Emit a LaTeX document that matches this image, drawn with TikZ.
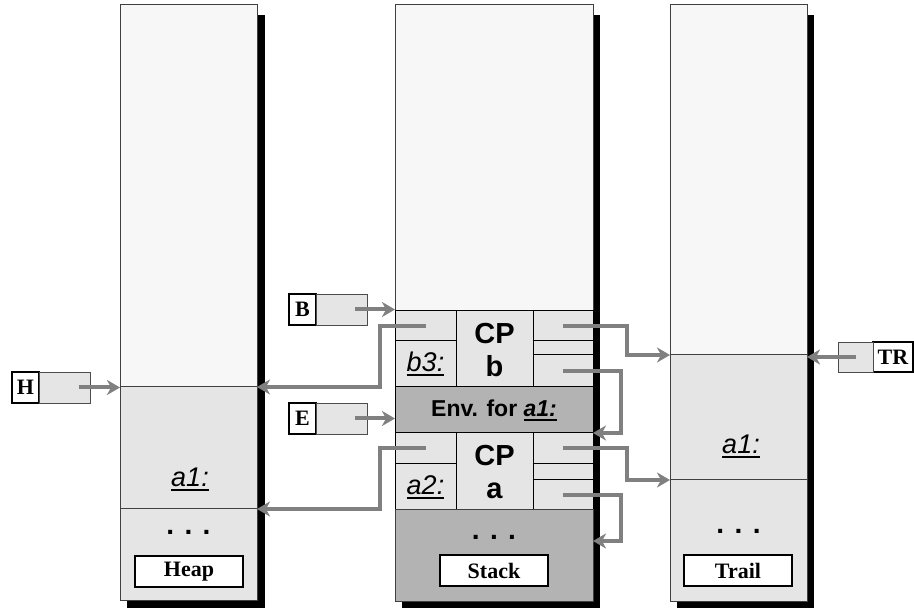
\documentclass[tikz,border=0pt]{standalone}
\usepackage{fontspec}
\setmainfont{Liberation Serif}
\setsansfont{Liberation Sans}
\usetikzlibrary{positioning,arrows.meta}

\definecolor{topfill}{HTML}{F7F7F7}
\definecolor{cellfill}{HTML}{E5E5E5}
\definecolor{darkfill}{HTML}{B3B3B3}
\definecolor{ptrgray}{HTML}{808080}

% sottolineatura spessa
\newcommand{\ulbl}[1]{\setbox0\hbox{#1}\leavevmode\rlap{\rule[-4.5pt]{\wd0}{2pt}}\box0}

\begin{document}
\begin{tikzpicture}[x=1pt,y=-1pt,
	area/.style={draw=black!75, line width=1pt, anchor=north west, inner sep=0pt, outer sep=0pt},
	cell/.style={draw=black, line width=1pt, fill=cellfill, anchor=north west, inner sep=0pt, outer sep=0pt},
	regbox/.style={draw=black, line width=1.2pt, fill=white, anchor=north west, inner sep=0pt, outer sep=0pt,
		minimum width=27pt, minimum height=31pt, font=\rmfamily\bfseries\fontsize{22}{24}\selectfont},
	regval/.style={draw=black!70, line width=0.8pt, fill=cellfill, inner sep=0pt, outer sep=0pt,
		minimum width=51pt, minimum height=31pt},
	tag/.style={draw=black, line width=1.2pt, fill=white, inner sep=0pt, minimum width=108pt, minimum height=31pt,
		font=\rmfamily\bfseries\fontsize{22}{24}\selectfont},
	lbl/.style={font=\sffamily\itshape\fontsize{27}{30}\selectfont, inner sep=0pt},
	cp/.style={font=\sffamily\bfseries\fontsize{29}{33}\selectfont, align=center, inner sep=0pt},
	dots/.style={font=\sffamily\bfseries\fontsize{28}{30}\selectfont, inner sep=0pt},
	ptr/.style={draw=ptrgray, line width=4pt, -{Stealth[length=13pt,width=15pt,inset=4pt]}}]
	\useasboundingbox (0,0) rectangle (914,609);

	% Ombre
	\fill[black] (127,15) rectangle (265,608);
	\fill[black] (402,15) rectangle (600,608);
	\fill[black] (677,15) rectangle (814,608);

	% Heap
	\node[area, fill=topfill, minimum width=137pt, minimum height=382pt] (heaptop) at (120,5) {};
	\node[area, fill=cellfill, minimum width=137pt, minimum height=122pt] (heapa) at (120,387) {};
	\node[area, fill=cellfill, minimum width=137pt, minimum height=92pt] (heapdots) at (120,509) {};
	\node[lbl] (heapalbl) at (190,479) {\ulbl{a1:}};
	\node[dots] (heapdt) at (188.5,532) {. . .};
	\node[tag] (heaptag) at (189,571.5) {Heap};

	% Stack
	\node[area, fill=topfill, minimum width=198pt, minimum height=306pt] (stacktop) at (395,5) {};
	\node[cell, minimum width=61pt, minimum height=30pt] (cpbul) at (395,311) {};
	\node[cell, minimum width=61pt, minimum height=46pt] (cpbll) at (395,341) {};
	\node[cell, minimum width=77pt, minimum height=76pt] (cpbmid) at (456,311) {};
	\node[cell, minimum width=60pt, minimum height=30pt] (cpbur) at (533,311) {};
	\node[cell, minimum width=60pt, minimum height=14pt] (cpbmr) at (533,341) {};
	\node[cell, minimum width=60pt, minimum height=32pt] (cpblr) at (533,355) {};
	\node[lbl] at (cpbll.center) {\ulbl{b3:}};
	\node[cp] at ([yshift=-1pt]cpbmid.center) {CP\\b};
	\node[cell, fill=darkfill, minimum width=198pt, minimum height=46pt] (env) at (395,387) {};
	\node[font=\sffamily\bfseries\fontsize{23}{25}\selectfont, inner sep=0pt] at (env.center) {Env. for \ulbl{\textit{a1:}}};
	\node[cell, minimum width=61pt, minimum height=31pt] (cpaul) at (395,433) {};
	\node[cell, minimum width=61pt, minimum height=46pt] (cpall) at (395,464) {};
	\node[cell, minimum width=77pt, minimum height=77pt] (cpamid) at (456,433) {};
	\node[cell, minimum width=60pt, minimum height=31pt] (cpaur) at (533,433) {};
	\node[cell, minimum width=60pt, minimum height=16pt] (cpamr) at (533,464) {};
	\node[cell, minimum width=60pt, minimum height=30pt] (cpalr) at (533,480) {};
	\node[lbl] at (cpall.center) {\ulbl{a2:}};
	\node[cp] at ([yshift=-1pt]cpamid.center) {CP\\a};
	\node[area, fill=darkfill, minimum width=198pt, minimum height=92pt] (stackdots) at (395,510) {};
	\node[dots] (stackdt) at (494,537) {. . .};
	\node[tag] (stacktag) at (494,570.5) {Stack};
	\coordinate (stackfree) at (593,541);

	% Trail
	\node[area, fill=topfill, minimum width=137pt, minimum height=350pt] (trailtop) at (670,5) {};
	\node[area, fill=cellfill, minimum width=137pt, minimum height=125pt] (traila) at (670,355) {};
	\node[area, fill=cellfill, minimum width=137pt, minimum height=122pt] (traildots) at (670,480) {};
	\node[lbl] (trailalbl) at (741,446) {\ulbl{a1:}};
	\node[dots] (traildt) at (738.5,531) {. . .};
	\node[tag] (trailtag) at (738,570.5) {Trail};

	% Registri
	\node[regbox] (hlbl) at (12,372) {H};
	\node[regval, right=0pt of hlbl] (hval) {};
	\node[regbox] (blbl) at (289,294) {B};
	\node[regval, right=0pt of blbl] (bval) {};
	\node[regbox] (elbl) at (289,403) {E};
	\node[regval, right=0pt of elbl] (eval) {};
	\node[regbox, minimum width=40pt, minimum height=30pt] (trlbl) at (873,342) {TR};
	\node[regval, left=0pt of trlbl, minimum width=35pt, minimum height=30pt] (trval) {};

	% Puntatori dei registri
	\draw[ptr] ([xshift=-11pt]hval.east) -- (hval.east -| heaptop.west);
	\draw[ptr] ([xshift=-12pt]bval.east) -- (bval.east -| stacktop.west);
	\draw[ptr] ([xshift=-12pt]eval.east) -- (eval.east -| env.west);
	\draw[ptr] (trval.center) -- (trval.center -| trailtop.east);

	% Puntatori dei choice point
	\draw[ptr] (cpbul.center) -- ++(-46,0) |- (heapa.north east);
	\draw[ptr] (cpbur.center) -- ++(64,0) |- (traila.north west);
	\draw[ptr] (cpblr.center) -- ++(58,0) |- (env.south east);
	\draw[ptr] (cpaul.center) -- ++(-46,0) |- (heapdots.north east);
	\draw[ptr] (cpaur.center) -- ++(64,0) |- (traildots.north west);
	\draw[ptr] (cpalr.center) -- ++(58,0) |- (stackfree);
\end{tikzpicture}
\end{document}
